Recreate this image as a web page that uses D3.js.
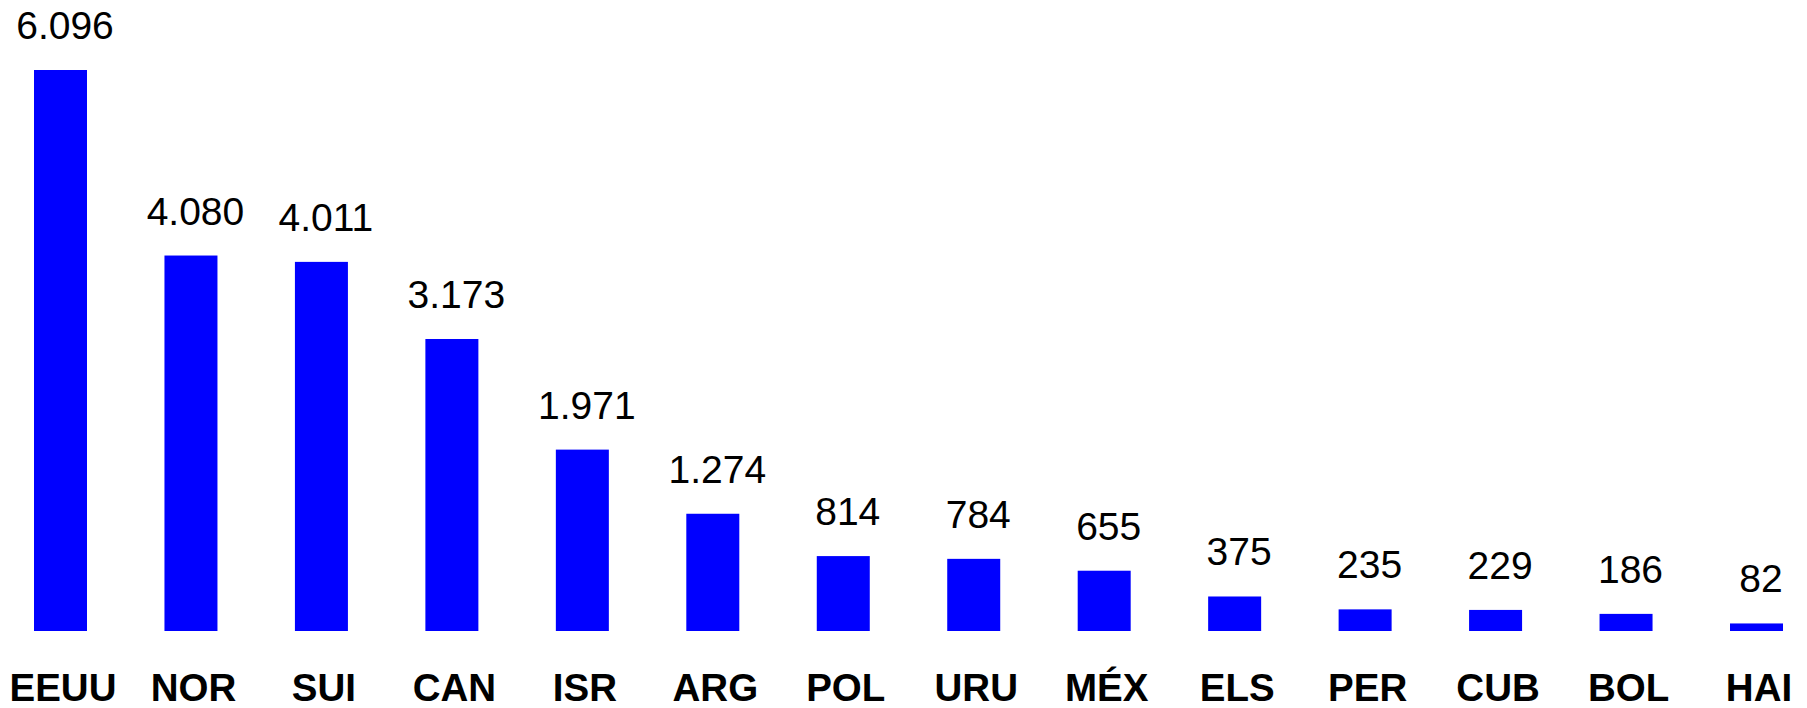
<!DOCTYPE html>
<html>
<head>
<meta charset="utf-8">
<script src="https://cdn.jsdelivr.net/npm/d3@7"></script>
<style>
  html, body { margin: 0; padding: 0; background: #ffffff; }
  svg { display: block; }
</style>
</head>
<body>
<svg id="chart" width="1807" height="708"></svg>
<script>
const categories = ["EEUU","NOR","SUI","CAN","ISR","ARG","POL","URU","MÉX","ELS","PER","CUB","BOL","HAI"];
const values = [6096, 4080, 4011, 3173, 1971, 1274, 814, 784, 655, 375, 235, 229, 186, 82];

const svg = d3.select("#chart");

const x = d3.scalePoint().domain(categories).range([60.5, 1756.5]);
const y = d3.scaleLinear().domain([0, 6096]).range([631, 70]);
const barW = 53;

const fmt = d3.formatLocale({ decimal: ",", thousands: ".", grouping: [3], currency: ["", ""] }).format(",d");

const data = categories.map((c, i) => ({ c, v: values[i] }));

svg.append("g").selectAll("rect").data(data).join("rect")
  .attr("x", d => x(d.c) - barW / 2)
  .attr("y", d => y(d.v))
  .attr("width", barW)
  .attr("height", d => y(0) - y(d.v))
  .attr("fill", "#0000ff");

svg.append("g").selectAll("text").data(data).join("text")
  .attr("x", d => x(d.c) + 4.5)
  .attr("y", d => y(d.v) - 31)
  .attr("text-anchor", "middle")
  .attr("font-family", "'Liberation Sans', Arial, sans-serif")
  .attr("font-size", 39)
  .attr("fill", "#000")
  .text(d => fmt(d.v));

const xAxis = d3.axisBottom(x).tickSize(0).tickPadding(0);
const gx = svg.append("g").attr("transform", "translate(0,701)").call(xAxis);
gx.select(".domain").remove();
gx.selectAll("text")
  .attr("dy", 0)
  .attr("dx", 2)
  .attr("y", 0)
  .attr("font-family", "'Liberation Sans', Arial, sans-serif")
  .attr("font-size", 38.5)
  .attr("font-weight", "bold")
  .attr("fill", "#000");
</script>
</body>
</html>
